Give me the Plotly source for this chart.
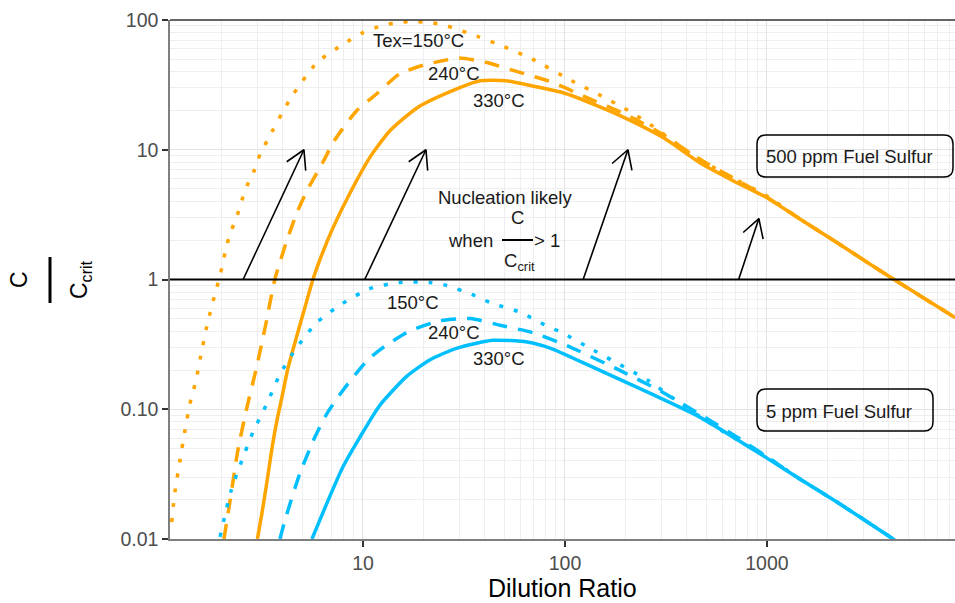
import numpy as np
import plotly.graph_objects as go

# ---------------- data ----------------
# 500 ppm fuel sulfur
dil_500_150 = [1.13, 1.17, 1.24, 1.315, 1.39, 1.49, 1.6, 1.71, 1.87, 1.96, 2.12, 2.24, 2.38, 2.51, 2.67,
               2.88, 3.1, 3.35, 4.36, 5.9, 7.96, 10, 12.6, 15, 18.5, 22, 26, 36.7, 49, 69, 108, 148, 203,
               275, 400, 600, 1000, 1455, 2140, 3130, 4260, 6630, 8530]
cc_500_150 = [0.0135, 0.0226, 0.04, 0.069, 0.11, 0.167, 0.295, 0.48, 0.82, 1.07, 1.86, 2.43, 3.1, 4.06, 5.3,
              6.8, 9.3, 11.7, 24.6, 46.8, 65, 80, 91, 96, 97, 95, 90, 75, 63, 50, 34, 26.5, 20.3,
              15, 9.8, 6.7, 4.4, 2.93, 2.0, 1.36, 1.0, 0.65, 0.51]

dil_500_240 = [2.05, 2.2, 2.4, 2.65, 2.95, 3.3, 3.66, 4.2, 4.71, 5.28, 6.3, 7.2, 9.3, 11.7, 15.2, 20, 24,
               30, 41, 58, 87, 130, 203, 300, 468, 676, 1000, 1455, 2140, 3130, 4260, 6630, 8530]
cc_500_240 = [0.01, 0.02, 0.048, 0.1, 0.2, 0.45, 1.0, 2.0, 3.27, 4.84, 7.9, 11.7, 20, 27, 38.5, 45, 48,
              51, 47, 40, 33, 25, 18.5, 13.3, 8.4, 6.1, 4.3, 2.93, 2.0, 1.36, 1.0, 0.65, 0.51]

dil_500_330 = [3.0, 3.16, 3.35, 3.55, 3.75, 3.97, 4.26, 4.71, 5.16, 5.65, 6.3, 7.1, 8.6, 10.8, 13.6,
               18.5, 27, 38, 51, 69, 98, 138, 203, 309, 468, 676, 1000, 1455, 2140, 3130, 4260, 6630, 8530]
cc_500_330 = [0.01, 0.0158, 0.028, 0.051, 0.082, 0.124, 0.21, 0.37, 0.61, 1.0, 1.6, 2.5, 4.6, 8.7, 14,
              21, 28, 34, 34, 31, 27.5, 22.5, 17.3, 12.3, 7.9, 5.8, 4.27, 2.93, 2.0, 1.36, 1.0, 0.65, 0.51]

# 5 ppm fuel sulfur
dil_5_150 = [1.96, 2.22, 2.51, 2.85, 3.35, 3.88, 4.71, 5.91, 7.87, 10.8, 15.2, 21.4, 26,
             35.8, 43, 60, 81, 98, 133, 257, 370, 600, 1000, 1455, 2140, 3130, 4300]
cc_5_150 = [0.0104, 0.0234, 0.04, 0.0665, 0.111, 0.186, 0.30, 0.467, 0.65, 0.85, 0.95,
            0.95, 0.9, 0.75, 0.66, 0.56, 0.44, 0.385, 0.295, 0.167, 0.112, 0.068, 0.043, 0.029, 0.02,
            0.0136, 0.0098]

dil_5_240 = [3.88, 4.11, 4.87, 5.78, 6.64, 7.96, 10.5, 12.6, 17, 24, 34, 49, 69, 102, 186, 300, 468, 700,
             1000, 1455, 2140, 3130, 4300]
cc_5_240 = [0.01, 0.014, 0.032, 0.061, 0.093, 0.14, 0.238, 0.30, 0.40, 0.48, 0.5, 0.44, 0.39, 0.31, 0.2,
            0.137, 0.091, 0.062, 0.043, 0.029, 0.02, 0.0136, 0.0098]

dil_5_330 = [5.59, 6.64, 7.96, 9.66, 12.1, 16.5, 21.4, 29, 44, 65, 85, 148, 263, 465, 1000, 1455,
             2140, 3130, 4300]
cc_5_330 = [0.01, 0.019, 0.036, 0.061, 0.107, 0.18, 0.24, 0.295, 0.34, 0.33, 0.295, 0.2, 0.133,
            0.087, 0.042, 0.029, 0.02, 0.0136, 0.0098]

# threshold and arrows ("Nucleation likely")
threshold = 1
arrow_from_x = [2.55, 10.2, 123, 724]
arrow_from_y = [1, 1, 1, 1]
arrow_to_x = [5.1, 20.5, 205, 912]
arrow_to_y = [10, 10, 10, 2.95]

# curve labels (text, dilution, C/Ccrit)
curve_labels = [("Tex=150°C", 18.9, 69), ("240°C", 28.2, 39), ("330°C", 47, 24),
                ("150°C", 17.7, 0.665), ("240°C", 28.2, 0.39), ("330°C", 47, 0.246)]

y_tickvals = [0.01, 0.1, 1, 10, 100]
y_ticktext = ["0.01", "0.10", "1", "10", "100"]
x_tickvals = [10, 100, 1000]
x_ticktext = ["10", "100", "1000"]

# ---------------- layout geometry ----------------
W, H = 955, 603
M = dict(l=170, r=0, t=20, b=64)
PW = W - M["l"] - M["r"]
PH = H - M["t"] - M["b"]
X_RANGE = [np.log10(1.108), np.log10(8530)]
Y_RANGE = [-2, 2]
SX = PW / (X_RANGE[1] - X_RANGE[0])
SY = PH / (Y_RANGE[1] - Y_RANGE[0])

ORANGE = "#FFA500"
BLUE = "#00BFFF"
FONT = "Liberation Sans, Arial, sans-serif"
DOT = "4px,11px"
DASH = "15px,11px"
TXT = 18.5


def pp(px, py):
    """pixel -> paper coordinates"""
    return (px - M["l"]) / PW, 1 - (py - M["t"]) / PH


fig = go.Figure()

series = [
    (dil_500_150, cc_500_150, ORANGE, DOT),
    (dil_500_240, cc_500_240, ORANGE, DASH),
    (dil_500_330, cc_500_330, ORANGE, "solid"),
    (dil_5_150, cc_5_150, BLUE, DOT),
    (dil_5_240, cc_5_240, BLUE, DASH),
    (dil_5_330, cc_5_330, BLUE, "solid"),
]
for xs, ys, col, dash in series:
    fig.add_trace(go.Scatter(x=xs, y=ys, mode="lines",
                             line=dict(color=col, width=3.5, dash=dash, shape="spline", smoothing=0.6),
                             hoverinfo="skip"))

# threshold line
fig.add_trace(go.Scatter(x=[1.0, 10000], y=[threshold, threshold], mode="lines",
                         line=dict(color="black", width=2), hoverinfo="skip"))

# arrows
HEAD_LEN = 21
HEAD_ANG = np.radians(30)
for x0, y0, x1, y1 in zip(arrow_from_x, arrow_from_y, arrow_to_x, arrow_to_y):
    fig.add_trace(go.Scatter(x=[x0, x1], y=[y0, y1], mode="lines",
                             line=dict(color="black", width=1.6), hoverinfo="skip"))
    dx = (np.log10(x1) - np.log10(x0)) * SX
    dy = (np.log10(y1) - np.log10(y0)) * SY
    L = np.hypot(dx, dy)
    ux, uy = dx / L, dy / L
    wx, wy = [], []
    for s in (1, -1):
        c, sn = np.cos(s * HEAD_ANG), np.sin(s * HEAD_ANG)
        rx = ux * c - uy * sn
        ry = ux * sn + uy * c
        wx.append(10 ** (np.log10(x1) - HEAD_LEN * rx / SX))
        wy.append(10 ** (np.log10(y1) - HEAD_LEN * ry / SY))
    fig.add_trace(go.Scatter(x=[wx[0], x1, wx[1]], y=[wy[0], y1, wy[1]], mode="lines",
                             line=dict(color="black", width=1.6), hoverinfo="skip"))

annotations = []
for txt, xv, yv in curve_labels:
    annotations.append(dict(x=np.log10(xv), y=np.log10(yv), xref="x", yref="y", text=txt,
                            showarrow=False, font=dict(family=FONT, size=TXT, color="#1a1a1a")))


def pann(txt, px, py, size=TXT, anchor="center", angle=0, color="#1a1a1a"):
    xp, yp = pp(px, py)
    annotations.append(dict(x=xp, y=yp, xref="paper", yref="paper", text=txt, showarrow=False,
                            xanchor=anchor, yanchor="middle", textangle=angle,
                            font=dict(family=FONT, size=size, color=color)))


# Nucleation likely block
pann("Nucleation likely", 505, 197)
pann("C", 517, 217)
pann("when", 470, 240)
pann("> 1", 547, 240)
pann("C<sub>crit</sub>", 519, 262)

# boxed labels
pann("500 ppm Fuel Sulfur", 764, 157, anchor="left")
pann("5 ppm Fuel Sulfur", 764, 411, anchor="left")

# axis titles
pann("Dilution Ratio", 562, 588, size=25, color="black")
pann("C", 19, 280, size=23, angle=-90, color="black")
pann("C<sub>crit</sub>", 80, 280, size=23, angle=-90, color="black")

shapes = []


def pline(x0, y0, x1, y1, width=2, color="black"):
    a, b = pp(x0, y0)
    c, d = pp(x1, y1)
    shapes.append(dict(type="line", xref="paper", yref="paper", x0=a, y0=b, x1=c, y1=d,
                       line=dict(color=color, width=width), layer="above"))


def rbox(x0, y0, x1, y1, r=9):
    def P(px, py):
        a, b = pp(px, py)
        return f"{a:.5f},{b:.5f}"
    path = (f"M {P(x0 + r, y0)} L {P(x1 - r, y0)} Q {P(x1, y0)} {P(x1, y0 + r)} "
            f"L {P(x1, y1 - r)} Q {P(x1, y1)} {P(x1 - r, y1)} "
            f"L {P(x0 + r, y1)} Q {P(x0, y1)} {P(x0, y1 - r)} "
            f"L {P(x0, y0 + r)} Q {P(x0, y0)} {P(x0 + r, y0)} Z")
    shapes.append(dict(type="path", xref="paper", yref="paper", path=path,
                       line=dict(color="black", width=1.5), fillcolor="rgba(255,255,255,0)",
                       layer="above"))


pline(502, 240, 533, 240, width=2)       # fraction bar in the note
pline(50, 257, 50, 303, width=3)         # fraction bar of the y title
pline(170, 20, 955, 20, width=1.6, color="#333333")  # top panel border
rbox(757, 135, 953, 177)
rbox(757, 389, 933, 431)


def minor_vals(lo, hi):
    out = []
    for d in range(lo, hi):
        for k in range(2, 10):
            out.append(k * 10 ** d)
    return out


fig.update_layout(
    width=W, height=H, margin=M, showlegend=False,
    plot_bgcolor="white", paper_bgcolor="white",
    annotations=annotations, shapes=shapes, hovermode=False,
    xaxis=dict(type="log", range=X_RANGE, tickmode="array", tickvals=x_tickvals, ticktext=x_ticktext,
               ticks="outside", ticklen=6, tickwidth=1.5, tickcolor="#333333",
               tickfont=dict(family=FONT, size=19.5, color="#4d4d4d"),
               showline=True, linecolor="#7f7f7f", linewidth=1.5,
               showgrid=True, gridcolor="#e3e3e3", gridwidth=1.2, zeroline=False,
               minor=dict(tickmode="array", tickvals=minor_vals(0, 4), showgrid=True,
                          gridcolor="#eeeeee", gridwidth=1, ticks="")),
    yaxis=dict(type="log", range=Y_RANGE, tickmode="array", tickvals=y_tickvals, ticktext=y_ticktext,
               ticks="outside", ticklen=6, tickwidth=1.5, tickcolor="#333333",
               tickfont=dict(family=FONT, size=19.5, color="#4d4d4d"),
               showline=True, linecolor="#7f7f7f", linewidth=1.5,
               showgrid=True, gridcolor="#e3e3e3", gridwidth=1.2, zeroline=False,
               minor=dict(tickmode="array", tickvals=minor_vals(-2, 2), showgrid=True,
                          gridcolor="#eeeeee", gridwidth=1, ticks="")),
)

fig.write_html("out.html")
